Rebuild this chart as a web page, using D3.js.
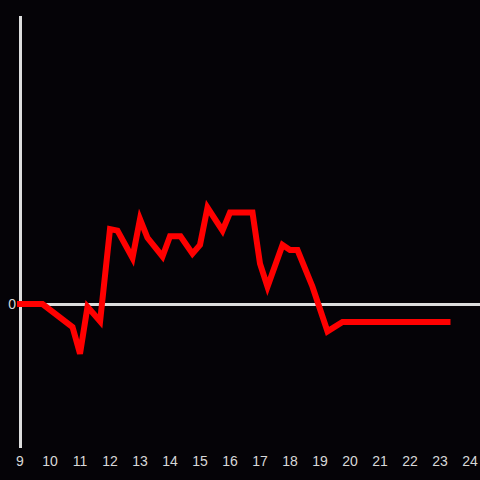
<!DOCTYPE html>
<html><head><meta charset="utf-8">
<script src="https://cdn.jsdelivr.net/npm/d3@7"></script>
<style>
html,body{margin:0;padding:0;background:#050307;}
svg{display:block;}
</style></head>
<body>
<script>
const hours = [9, 9.75, 10.75, 11, 11.25, 11.67, 12, 12.25, 12.75, 13, 13.25, 13.75, 14, 14.35, 14.75, 15, 15.25, 15.75, 16, 16.75, 17, 17.25, 17.75, 18, 18.25, 18.75, 19.25, 19.75, 23.25];
const values = [0, 0, -0.16, -0.345, -0.02, -0.12, 0.52, 0.51, 0.32, 0.59, 0.46, 0.33, 0.47, 0.47, 0.35, 0.41, 0.67, 0.51, 0.635, 0.635, 0.28, 0.12, 0.41, 0.375, 0.375, 0.12, -0.19, -0.125, -0.125];
const xTicks = [9,10,11,12,13,14,15,16,17,18,19,20,21,22,23,24];
const yTicks = [0];

const W = 480, H = 480;
const svg = d3.select("body").append("svg").attr("width", W).attr("height", H)
  .style("background", "#050307");

const x = d3.scaleLinear().domain([9, 24]).range([20, 470]);
const y = d3.scaleLinear().domain([-1, 2]).range([448, 16]);

// y axis line
svg.append("line").attr("x1", 20.5).attr("x2", 20.5).attr("y1", 16).attr("y2", 448)
  .attr("stroke", "#dddddd").attr("stroke-width", 3);

// zero line
svg.append("line").attr("x1", 20).attr("x2", 480).attr("y1", y(0) + 0.5).attr("y2", y(0) + 0.5)
  .attr("stroke", "#dddddd").attr("stroke-width", 3);

// x tick labels
svg.append("g").selectAll("text").data(xTicks).join("text")
  .attr("x", d => x(d)).attr("y", 466)
  .attr("text-anchor", "middle")
  .attr("fill", "#d8d8d8")
  .style("font-family", "'Liberation Sans', Arial, sans-serif")
  .style("font-size", "14px")
  .text(d => d);

// y tick labels
svg.append("g").selectAll("text").data(yTicks).join("text")
  .attr("x", 16).attr("y", y(0) + 5)
  .attr("text-anchor", "end")
  .attr("fill", "#d8d8d8")
  .style("font-family", "'Liberation Sans', Arial, sans-serif")
  .style("font-size", "14px")
  .text(d => d);

const data = hours.map((h, i) => [h, values[i]]);
const line = d3.line().x(d => x(d[0])).y(d => y(d[1]));
svg.append("path").datum(data).attr("d", line)
  .attr("fill", "none").attr("stroke", "#ff0000").attr("stroke-width", 6)
  .attr("stroke-linejoin", "miter").attr("stroke-linecap", "square");
</script>
</body></html>
